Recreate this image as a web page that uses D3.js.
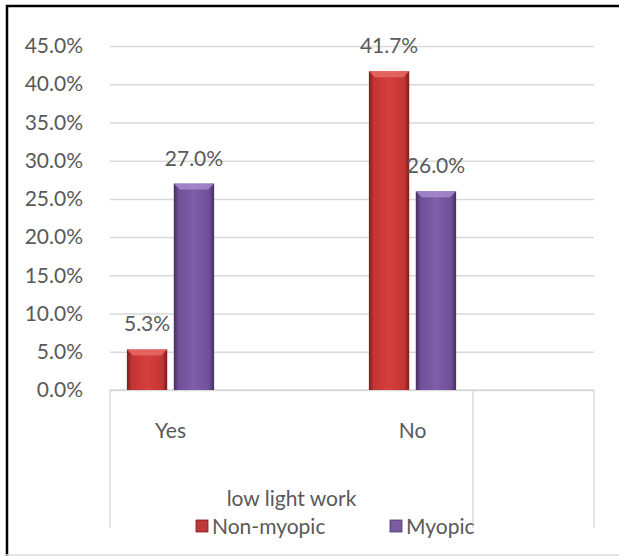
<!DOCTYPE html>
<html>
<head>
<meta charset="utf-8">
<script src="https://d3js.org/d3.v7.min.js"></script>
<style>
  body { margin: 0; background: #fff; }
  svg text { font-family: Lato, "Open Sans", sans-serif; fill: #595959; font-size: 21px; }
</style>
</head>
<body>
<div id="chart"></div>
<script>
// data
const categories = ["Yes", "", "No", ""];   // 4 slots on the axis, 2nd and 4th are empty
const groupLabel = "low light work";
const seriesNames = ["Non-myopic", "Myopic"];
const nonMyopic = [5.3, null, 41.7, null];
const myopic = [27.0, null, 26.0, null];
const yTicks = [0, 5, 10, 15, 20, 25, 30, 35, 40, 45];

const W = 619, H = 556;
const plot = { left: 110, right: 594, top: 46, bottom: 390 };

const svg = d3.select("#chart").append("svg")
  .attr("width", W).attr("height", H);

const defs = svg.append("defs");
function barGradient(id, dark, mid, light) {
  const g = defs.append("linearGradient").attr("id", id)
    .attr("x1", "0%").attr("x2", "100%").attr("y1", "0%").attr("y2", "0%");
  g.append("stop").attr("offset", "0%").attr("stop-color", dark);
  g.append("stop").attr("offset", "12%").attr("stop-color", mid);
  g.append("stop").attr("offset", "50%").attr("stop-color", light);
  g.append("stop").attr("offset", "88%").attr("stop-color", mid);
  g.append("stop").attr("offset", "100%").attr("stop-color", dark);
}
barGradient("gRed", "#7e1d1b", "#c23532", "#d63f3d");
barGradient("gPurple", "#45305f", "#6f4f98", "#7f5eaa");
const colors = ["url(#gRed)", "url(#gPurple)"];
const bevel = ["#e66a66", "#a48bcc"];
const swatch = ["#c0393a", "#7a5ca6"];

// scales
const x = d3.scaleBand().domain(d3.range(categories.length))
  .range([plot.left, plot.right]).padding(0);
const xs = d3.scaleBand().domain(seriesNames)
  .range([0, x.bandwidth()]).paddingInner(0.14).paddingOuter(0.36);
const y = d3.scaleLinear().domain([0, 45]).range([plot.bottom, plot.top]);

// outer frame: top and left dark, bottom light
svg.append("line").attr("x1", 6).attr("x2", W).attr("y1", 6).attr("y2", 6)
  .attr("stroke", "#000").attr("stroke-width", 2.5);
svg.append("line").attr("x1", 7).attr("x2", 7).attr("y1", 5).attr("y2", H)
  .attr("stroke", "#000").attr("stroke-width", 2.5);
svg.append("line").attr("x1", 6).attr("x2", W).attr("y1", 555).attr("y2", 555)
  .attr("stroke", "#dcdcdc").attr("stroke-width", 1.5);

// gridlines + y labels
const yAxis = svg.append("g").attr("transform", `translate(${plot.left},0)`)
  .call(d3.axisLeft(y).tickValues(yTicks).tickSize(-(plot.right - plot.left))
    .tickPadding(27).tickFormat(d => d.toFixed(1) + "%"));
yAxis.select(".domain").remove();
yAxis.selectAll(".tick line").attr("stroke", "#d9d9d9").attr("stroke-width", 1.5);
yAxis.selectAll(".tick text").style("font-size", "21px").attr("fill", "#595959");

// category axis line and separators
svg.append("line").attr("x1", plot.left).attr("x2", plot.right)
  .attr("y1", plot.bottom).attr("y2", plot.bottom)
  .attr("stroke", "#d9d9d9").attr("stroke-width", 1.5);
const seps = [x(0), x(3), x(3) + x.bandwidth()];
svg.selectAll(".sep").data(seps).enter().append("line")
  .attr("x1", d => d).attr("x2", d => d)
  .attr("y1", plot.bottom).attr("y2", 528)
  .attr("stroke", "#d9d9d9").attr("stroke-width", 1.5);

svg.selectAll(".cat").data(categories).enter().append("text")
  .attr("x", (d, i) => x(i) + x.bandwidth() / 2)
  .attr("y", 438).attr("text-anchor", "middle").text(d => d);

svg.append("text").attr("x", (x(0) + x(3)) / 2).attr("y", 506)
  .attr("text-anchor", "middle").text(groupLabel);

// bars
const seriesVals = [nonMyopic, myopic];
seriesNames.forEach((s, si) => {
  const pts = seriesVals[si].map((v, i) => ({ v, i })).filter(d => d.v !== null);
  const g = svg.append("g");
  pts.forEach(d => {
    const bx = x(d.i) + xs(s), bw = xs.bandwidth();
    const top = y(d.v), bh = plot.bottom - top;
    g.append("rect").attr("x", bx).attr("y", top).attr("width", bw).attr("height", bh)
      .attr("fill", colors[si]);
    // top bevel
    const b = 6;
    g.append("path")
      .attr("d", `M${bx},${top} L${bx + bw},${top} L${bx + bw - b},${top + b} L${bx + b},${top + b} Z`)
      .attr("fill", bevel[si]).attr("opacity", 0.85);
    g.append("text").attr("x", bx + bw / 2).attr("y", top - 18)
      .attr("text-anchor", "middle").text(d.v.toFixed(1) + "%");
  });
});

// legend
const legend = [{ name: seriesNames[0], x: 196 }, { name: seriesNames[1], x: 390 }];
legend.forEach((l, i) => {
  svg.append("rect").attr("x", l.x).attr("y", 520).attr("width", 12).attr("height", 12)
    .attr("fill", swatch[i]).attr("stroke", i ? "#4a3566" : "#7e1d1b").attr("stroke-width", 0.8);
  svg.append("text").attr("x", l.x + 16).attr("y", 534).text(l.name);
});
</script>
</body>
</html>
